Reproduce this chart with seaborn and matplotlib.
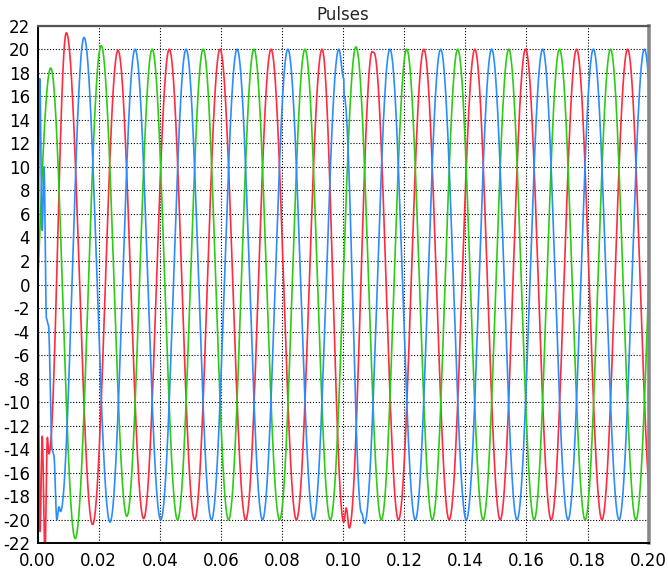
import numpy as np
import pandas as pd
import matplotlib
matplotlib.use("Agg")
import matplotlib.pyplot as plt
import seaborn as sns

# Turning points (time in s, value) of each pulse trace; the curve between
# two neighbouring turning points follows a half-cosine, as a sine wave does.
red_t = [0.0, 0.0008, 0.0015, 0.0024, 0.0032, 0.0037,
         0.0094, 0.0180, 0.0263, 0.0347, 0.0431, 0.0514, 0.0597, 0.0681,
         0.0764, 0.0847, 0.0931, 0.1002, 0.1010, 0.1020, 0.1095, 0.1101,
         0.1181, 0.1264, 0.1347, 0.1431, 0.1514, 0.1597, 0.1681, 0.1764,
         0.1847, 0.1931, 0.2014]
red_v = [0.0, -21.0, -12.9, -23.0, -13.0, -14.4,
         21.4, -20.4, 19.9, -19.9, 20.0, -20.0, 20.0, -20.0,
         20.0, -20.0, 20.0, -20.2, -19.0, -20.7, 19.8, 19.7,
         -20.0, 20.0, -20.0, 20.0, -20.0, 20.0, -20.0, 20.0,
         -20.0, 20.0, -20.0]

green_t = [-0.0042, 0.0043, 0.0123, 0.0208, 0.0292, 0.0375, 0.0458,
           0.0542, 0.0625, 0.0708, 0.0792, 0.0875, 0.0958, 0.1042,
           0.1125, 0.1208, 0.1292, 0.1375, 0.1458, 0.1542, 0.1625,
           0.1708, 0.1792, 0.1875, 0.1958, 0.2042]
green_v = [-18.4, 18.4, -21.6, 20.3, -19.7, 20.0, -20.0,
           20.0, -20.0, 20.0, -20.0, 20.0, -20.0, 20.2,
           -20.0, 20.0, -20.0, 20.0, -20.0, 20.0, -20.0,
           20.0, -20.0, 20.0, -20.0, 20.0]

blue_t = [0.0, 0.0007, 0.0015, 0.0021, 0.0029, 0.0035, 0.0048, 0.0053,
          0.0063, 0.0070, 0.0075, 0.0152, 0.0237, 0.0319, 0.0403,
          0.0486, 0.0569, 0.0653, 0.0736, 0.0819, 0.0903, 0.0986,
          0.1002, 0.1003, 0.1060, 0.1070, 0.1153, 0.1236, 0.1319,
          0.1403, 0.1486, 0.1569, 0.1653, 0.1736, 0.1819, 0.1903,
          0.1986, 0.2069]
blue_v = [0.0, 17.5, 4.6, 10.0, -2.9, -3.4, -14.1, -14.5,
          -20.0, -18.9, -19.3, 21.0, -20.2, 20.0, -20.0,
          20.0, -20.0, 20.0, -20.0, 20.0, -20.0, 20.0,
          17.5, 16.0, -19.4, -20.3, 20.0, -20.0, 20.0,
          -20.0, 20.0, -20.0, 20.0, -20.0, 20.0, -20.0,
          20.0, -20.0]

series_names = ["red", "green", "blue"]
series_colors = {"red": "#ff2b3f", "green": "#2ccc14", "blue": "#2a8cff"}

x_ticks = [0.00, 0.02, 0.04, 0.06, 0.08, 0.10, 0.12, 0.14, 0.16, 0.18, 0.20]
y_ticks = list(range(-22, 23, 2))


def trace(knot_t, knot_v, t):
    kt = np.asarray(knot_t, float)
    kv = np.asarray(knot_v, float)
    i = np.clip(np.searchsorted(kt, t, side="right") - 1, 0, len(kt) - 2)
    s = (t - kt[i]) / (kt[i + 1] - kt[i])
    w = (1.0 - np.cos(np.pi * s)) / 2.0
    return kv[i] + (kv[i + 1] - kv[i]) * w


knots = {"red": (red_t, red_v), "green": (green_t, green_v),
         "blue": (blue_t, blue_v)}

frames = []
for name in series_names:
    kt, kv = knots[name]
    inside = [k for k in kt if 0.0 <= k <= 0.2]
    t = np.union1d(np.linspace(0.0, 0.2, 20001), inside)
    frames.append(pd.DataFrame({"t": t, "value": trace(kt, kv, t),
                                "phase": name}))
df = pd.concat(frames, ignore_index=True)

sns.set_style("white")
plt.rcParams["font.family"] = ["DejaVu Sans"]
plt.rcParams["axes.unicode_minus"] = False

fig = plt.figure(figsize=(6.68, 5.71), dpi=100)
ax = fig.add_axes([37.6 / 668, 1 - 543.3 / 571,
                   (648.7 - 37.6) / 668, (543.3 - 25.7) / 571])

sns.lineplot(data=df, x="t", y="value", hue="phase",
             hue_order=series_names, palette=series_colors,
             estimator=None, sort=False, legend=False, linewidth=1.2,
             ax=ax)

ax.set_xlim(0.0, 0.2)
ax.set_ylim(-22, 22)
ax.set_xticks(x_ticks)
ax.set_xticklabels([f"{v:.2f}" for v in x_ticks])
ax.set_yticks(y_ticks)
ax.set_yticklabels([str(v) for v in y_ticks])
ax.tick_params(axis="both", length=0, labelsize=12, colors="black")
ax.tick_params(axis="y", pad=5.5)
ax.tick_params(axis="x", pad=6)
ax.set_xlabel("")
ax.set_ylabel("")
ax.set_axisbelow(True)
ax.grid(True, color="black", linewidth=0.8, linestyle=(0, (1, 1.6)))

for side in ("left", "bottom"):
    ax.spines[side].set_color("black")
    ax.spines[side].set_linewidth(1.4)
ax.spines["top"].set_color("#555555")
ax.spines["top"].set_linewidth(1.6)
ax.spines["right"].set_color("#888888")
ax.spines["right"].set_linewidth(2.6)

ax.set_title("Pulses", fontsize=12, pad=4)

fig.savefig("out.png", dpi=100)
